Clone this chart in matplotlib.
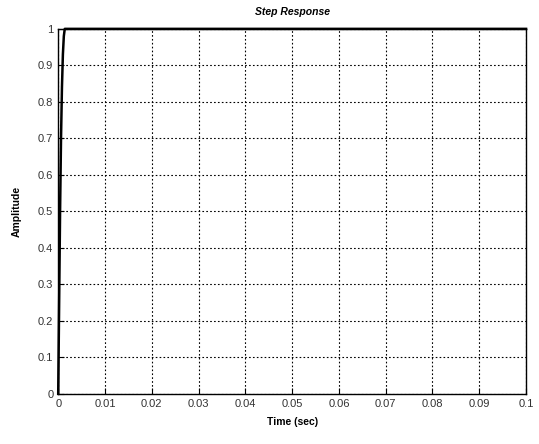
import matplotlib.pyplot as plt

# step response samples
time = [0.0, 0.0002, 0.0004, 0.0006, 0.0008, 0.001, 0.0012, 0.0014, 0.1]
amplitude = [0.0, 0.25, 0.5, 0.7, 0.84, 0.93, 0.98, 1.0, 1.0]

xticks = [0, 0.01, 0.02, 0.03, 0.04, 0.05, 0.06, 0.07, 0.08, 0.09, 0.1]
xticklabels = ["0", "0.01", "0.02", "0.03", "0.04", "0.05", "0.06", "0.07", "0.08", "0.09", "0.1"]
yticks = [0, 0.1, 0.2, 0.3, 0.4, 0.5, 0.6, 0.7, 0.8, 0.9, 1]
yticklabels = ["0", "0.1", "0.2", "0.3", "0.4", "0.5", "0.6", "0.7", "0.8", "0.9", "1"]

plt.rcParams["font.family"] = ["Liberation Sans", "DejaVu Sans"]

fig = plt.figure(figsize=(5.39, 4.44), dpi=100)
ax = fig.add_axes([0.108, 0.113, 0.868, 0.822])

ax.plot(time, amplitude, color="black", linewidth=1.8, clip_on=False)

ax.set_xlim(0, 0.1)
ax.set_ylim(0, 1)
ax.set_xticks(xticks)
ax.set_xticklabels(xticklabels)
ax.set_yticks(yticks)
ax.set_yticklabels(yticklabels)
ax.tick_params(direction="in", length=4, labelsize=8, color="black", labelcolor="#333333")
ax.grid(True, linestyle=(0, (1.5, 2.0)), color="black", linewidth=0.8)
for s in ax.spines.values():
    s.set_linewidth(1.0)

ax.set_title("Step Response", fontsize=7.5, fontweight="bold", style="italic", pad=10)
ax.set_xlabel("Time (sec)", fontsize=7.5, fontweight="bold", labelpad=6)
ax.set_ylabel("Amplitude", fontsize=7.5, fontweight="bold", labelpad=12)

plt.savefig("out.png", dpi=100)
plt.close()
